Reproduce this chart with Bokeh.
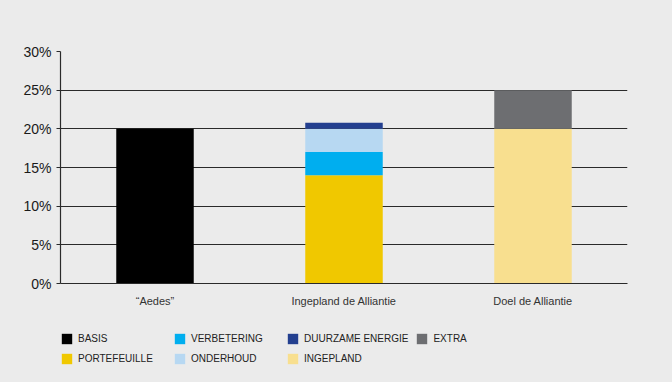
from bokeh.plotting import figure
from bokeh.layouts import column
from bokeh.models import Legend, LegendItem, PrintfTickFormatter, FactorRange, Range1d
from bokeh.embed import file_html
from bokeh.resources import INLINE

categories = ["\u201cAedes\u201d", "Ingepland de Alliantie", "Doel de Alliantie"]
basis = [20, 0, 0]
portefeuille = [0, 14, 0]
verbetering = [0, 3, 0]
onderhoud = [0, 3, 0]
duurzame_energie = [0, 0.8, 0]
ingepland = [0, 0, 20]
extra = [0, 0, 5]

series_names = ["basis", "portefeuille", "verbetering", "onderhoud", "duurzame_energie", "ingepland", "extra"]
series_labels = ["BASIS", "PORTEFEUILLE", "VERBETERING", "ONDERHOUD", "DUURZAME ENERGIE", "INGEPLAND", "EXTRA"]
colors = ["#000000", "#f0c800", "#00aeef", "#b7d8f2", "#233f8f", "#f8df8f", "#6d6e71"]
y_ticks = [0, 5, 10, 15, 20, 25, 30]

FONT = "Liberation Sans"
BG = "#ebebeb"

data = dict(cat=categories, basis=basis, portefeuille=portefeuille, verbetering=verbetering,
            onderhoud=onderhoud, duurzame_energie=duurzame_energie, ingepland=ingepland, extra=extra)

p = figure(width=672, height=318, x_range=FactorRange(*categories), y_range=Range1d(0, 30),
           output_backend="svg", toolbar_location=None,
           min_border_left=60, min_border_right=45, min_border_top=51, min_border_bottom=35)
p.background_fill_color = BG
p.border_fill_color = BG
p.outline_line_color = None
p.x_range.range_padding = 0

renderers = p.vbar_stack(series_names, x="cat", width=0.41, color=colors, source=data, line_width=0)

p.xgrid.grid_line_color = None
p.ygrid.grid_line_color = "#2a2a2a"
p.ygrid.grid_line_width = 1.2
p.ygrid.ticker = y_ticks

p.yaxis.ticker = y_ticks
p.yaxis.formatter = PrintfTickFormatter(format="%d%%")
p.yaxis.major_label_text_font = FONT
p.yaxis.major_label_text_font_size = "14px"
p.yaxis.major_label_text_color = "#1a1a1a"
p.yaxis.major_tick_in = 0
p.yaxis.major_tick_out = 4
p.yaxis.minor_tick_line_color = None
p.yaxis.axis_line_color = "#2a2a2a"
p.yaxis.major_tick_line_color = "#2a2a2a"
p.yaxis.axis_line_width = 1.2

p.xaxis.major_tick_line_color = None
p.xaxis.axis_line_color = "#2a2a2a"
p.xaxis.axis_line_width = 1.2
p.xaxis.major_label_text_font = FONT
p.xaxis.major_label_text_font_size = "11px"
p.xaxis.major_label_text_color = "#333333"
p.xaxis.major_label_standoff = 5

# legend panel (frame is aligned with the chart's frame by the column layout)
q = figure(width=672, height=64, x_axis_type=None, y_axis_type=None,
           x_range=Range1d(0, 1), y_range=Range1d(0, 1),
           output_backend="svg", toolbar_location=None,
           min_border_left=60, min_border_right=45, min_border_top=0, min_border_bottom=0)
q.background_fill_color = BG
q.border_fill_color = BG
q.outline_line_color = None
q.grid.visible = False

items = []
for label, color in zip(series_labels, colors):
    r = q.rect(x=[-5], y=[-5], width=0.1, height=0.1, fill_color=color, line_color=None)
    items.append(LegendItem(label=label, renderers=[r]))

legend = Legend(items=items, ncols=4, location=(0, 17))
legend.background_fill_alpha = 0
legend.border_line_color = None
legend.glyph_width = 13
legend.glyph_height = 13
legend.label_width = 88
legend.label_standoff = 5
legend.spacing = 7
legend.padding = 0
legend.margin = 0
legend.label_text_font = FONT
legend.label_text_font_size = "10px"
legend.label_text_color = "#222222"
legend.label_height = 13
q.add_layout(legend)

layout = column(p, q, spacing=0, styles={"background-color": BG})
open("out.html", "w").write(file_html(layout, INLINE))
